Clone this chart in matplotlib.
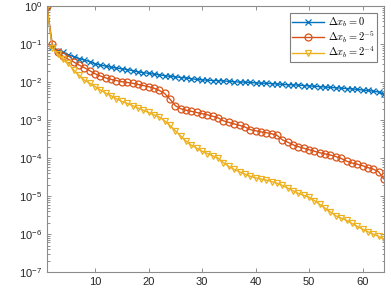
import numpy as np
import matplotlib.pyplot as plt
from matplotlib.ticker import LogLocator, NullFormatter

plt.rcParams['font.family'] = ['Liberation Sans', 'DejaVu Sans']
plt.rcParams['mathtext.fontset'] = 'custom'
plt.rcParams['mathtext.rm'] = 'Liberation Sans'
plt.rcParams['mathtext.it'] = 'Liberation Sans:italic'

# iteration index
it = np.arange(1, 65)

# log10 of the residual
log_dx0 = [0, -1.08, -1.17, -1.22, -1.28, -1.33, -1.38, -1.42, -1.46, -1.52,
           -1.55, -1.58, -1.61, -1.63, -1.65, -1.67, -1.70, -1.73, -1.75, -1.77,
           -1.79, -1.81, -1.83, -1.85, -1.86, -1.88, -1.89, -1.91, -1.93, -1.94,
           -1.95, -1.96, -1.96, -1.97, -1.98, -1.99, -2.00, -2.00, -2.01, -2.02,
           -2.03, -2.03, -2.04, -2.05, -2.06, -2.07, -2.07, -2.08, -2.09, -2.10,
           -2.11, -2.12, -2.13, -2.14, -2.15, -2.16, -2.17, -2.18, -2.19, -2.21,
           -2.22, -2.24, -2.26, -2.32]
log_dx5 = [0, -1.00, -1.22, -1.32, -1.40, -1.47, -1.55, -1.62, -1.70, -1.78,
           -1.84, -1.89, -1.93, -1.96, -1.99, -2.01, -2.03, -2.06, -2.09, -2.12,
           -2.16, -2.22, -2.30, -2.45, -2.62, -2.70, -2.74, -2.77, -2.80, -2.83,
           -2.86, -2.90, -2.94, -3.02, -3.06, -3.10, -3.14, -3.18, -3.25, -3.28,
           -3.31, -3.33, -3.36, -3.40, -3.52, -3.58, -3.65, -3.70, -3.74, -3.78,
           -3.82, -3.86, -3.89, -3.92, -3.96, -4.01, -4.08, -4.13, -4.16, -4.20,
           -4.25, -4.29, -4.36, -4.55]
log_dx4 = [0, -1.10, -1.25, -1.38, -1.51, -1.68, -1.82, -1.95, -2.03, -2.12,
           -2.21, -2.29, -2.36, -2.44, -2.51, -2.56, -2.62, -2.68, -2.74, -2.80,
           -2.86, -2.92, -3.02, -3.14, -3.28, -3.42, -3.55, -3.66, -3.74, -3.82,
           -3.88, -3.94, -4.00, -4.12, -4.22, -4.30, -4.36, -4.42, -4.48, -4.52,
           -4.55, -4.58, -4.62, -4.66, -4.72, -4.79, -4.86, -4.93, -4.98, -5.03,
           -5.12, -5.22, -5.32, -5.42, -5.52, -5.58, -5.64, -5.72, -5.80, -5.87,
           -5.94, -6.00, -6.06, -6.14]

labels = [r'$\Delta x_b = 0$', r'$\Delta x_b = 2^{-5}$', r'$\Delta x_b = 2^{-4}$']
colors = ['#0072BD', '#D95319', '#EDB120']
markers = ['x', 'o', 'v']
yticks = [1e-7, 1e-6, 1e-5, 1e-4, 1e-3, 1e-2, 1e-1, 1e0]
yticklabels = [r'$10^{%d}$' % e for e in range(-7, 1)]

fig = plt.figure(figsize=(3.91, 3.05), dpi=100)
ax = fig.add_axes([0.120, 0.108, 0.862, 0.872])

for vals, lab, c, m in zip([log_dx0, log_dx5, log_dx4], labels, colors, markers):
    ax.semilogy(it, 10.0 ** np.array(vals), color=c, marker=m, markersize=5,
                markerfacecolor='none', markeredgewidth=0.9, linewidth=1, label=lab)

ax.set_xlim(1, 64)
ax.set_ylim(1e-7, 1)
ax.set_xticks([10, 20, 30, 40, 50, 60])
ax.set_yticks(yticks)
ax.set_yticklabels(yticklabels)
ax.yaxis.set_minor_locator(LogLocator(base=10, subs=np.arange(2, 10), numticks=20))
ax.yaxis.set_minor_formatter(NullFormatter())

ax.tick_params(which='both', direction='in', top=True, right=True,
               color='#7f7f7f', labelcolor='#262626', labelsize=8, width=0.6)
ax.tick_params(which='major', length=3)
ax.tick_params(which='minor', length=1.8)
for s in ax.spines.values():
    s.set_linewidth(0.8)
    s.set_color('#8c8c8c')

leg = ax.legend(loc='upper right', fontsize=7.5, fancybox=False, framealpha=1,
                edgecolor='#7f7f7f', borderaxespad=0.7, handlelength=3.0,
                borderpad=0.2, labelspacing=0.0, handletextpad=0.4)
leg.get_frame().set_linewidth(0.8)
for t in leg.get_texts():
    t.set_math_fontfamily('cm')

fig.savefig('out.png', dpi=100)
